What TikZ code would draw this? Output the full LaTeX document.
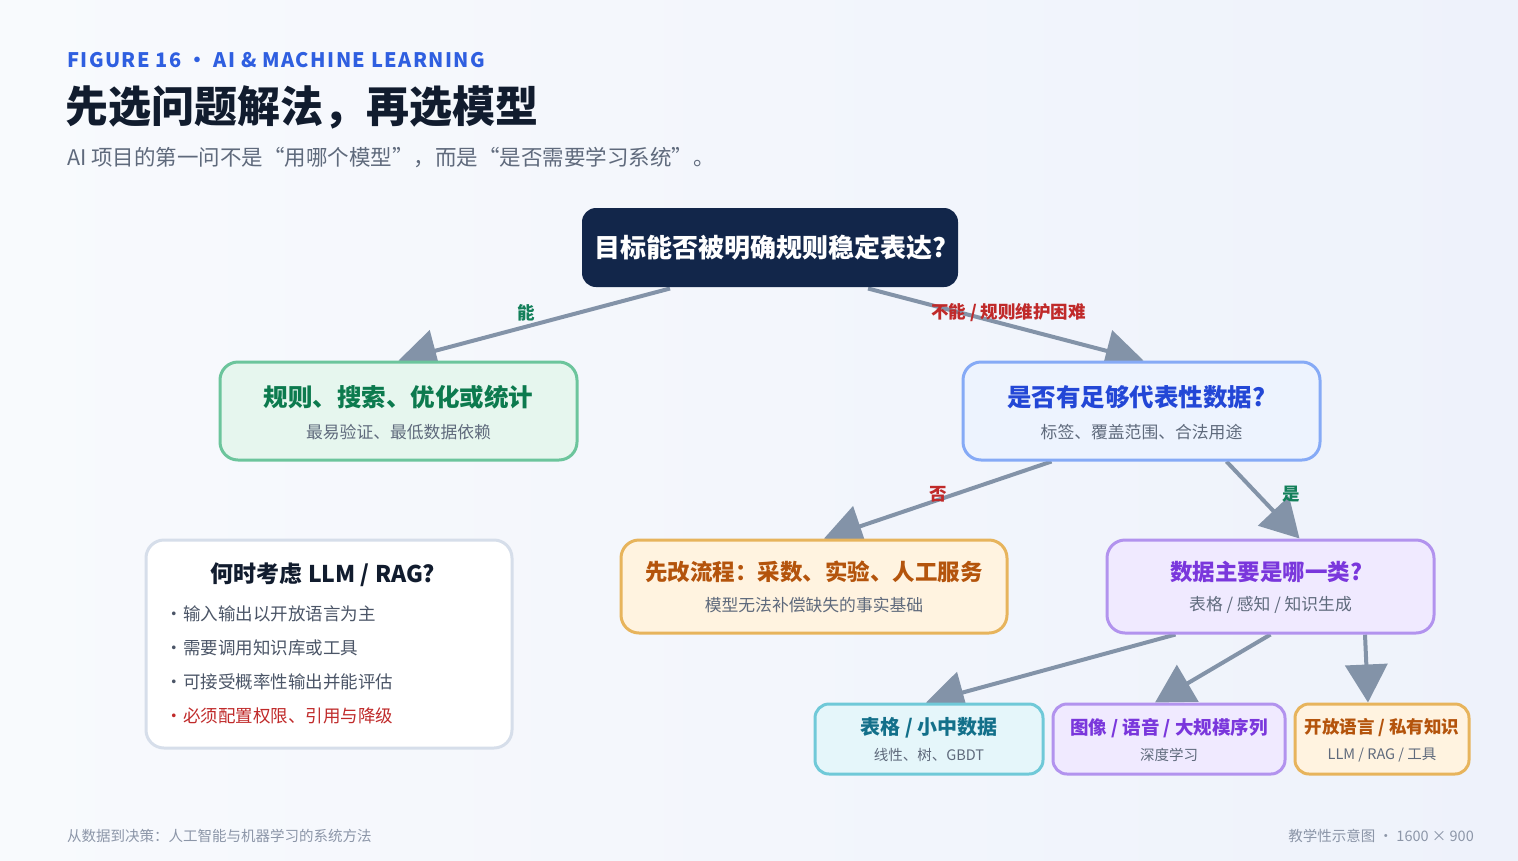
\documentclass[tikz,border=0pt]{standalone}
\usepackage{fontspec}
\setmainfont{Noto Sans CJK SC}
\usetikzlibrary{arrows.meta,positioning}

\definecolor{bgl}{HTML}{F8FAFD}
\definecolor{bgr}{HTML}{EEF2FB}
\definecolor{figc}{HTML}{2F5FE0}
\definecolor{inkc}{HTML}{111C2E}
\definecolor{subc}{HTML}{5F6A7C}
\definecolor{navyc}{HTML}{12264A}
\definecolor{arrowc}{HTML}{8393A8}
\definecolor{okc}{HTML}{13805A}
\definecolor{noc}{HTML}{C02A2A}
\definecolor{greenb}{HTML}{6CC59C}
\definecolor{greenf}{HTML}{E6F6EE}
\definecolor{greent}{HTML}{0C7A4E}
\definecolor{blueb}{HTML}{86AAF6}
\definecolor{bluef}{HTML}{EDF3FE}
\definecolor{bluet}{HTML}{2347D6}
\definecolor{orangeb}{HTML}{E7B45C}
\definecolor{orangef}{HTML}{FFF3E0}
\definecolor{oranget}{HTML}{B4540C}
\definecolor{purpleb}{HTML}{B293EE}
\definecolor{purplef}{HTML}{F0EAFF}
\definecolor{purplet}{HTML}{7A37DC}
\definecolor{tealb}{HTML}{70C9D8}
\definecolor{tealf}{HTML}{E5F6FA}
\definecolor{tealt}{HTML}{13708A}
\definecolor{grayb}{HTML}{D6DEEA}
\definecolor{itemc}{HTML}{4B5567}
\definecolor{footc}{HTML}{8C96A8}

\pgfdeclarelayer{bg}
\pgfsetlayers{bg,main}

\tikzset{
  box/.style={rounded corners=18pt, line width=3pt, inner sep=0pt},
  leaf/.style={rounded corners=14pt, line width=3pt, inner sep=0pt, minimum height=70pt},
  bigtitle/.style={font=\bfseries\fontsize{24.5}{28}\selectfont, inner sep=0pt},
  midtitle/.style={font=\bfseries\fontsize{22.5}{26}\selectfont, inner sep=0pt},
  leaftitle/.style={font=\bfseries\fontsize{18.5}{22}\selectfont, inner sep=0pt},
  boxsub/.style={font=\fontsize{16.8}{20}\selectfont, text=subc, inner sep=0pt},
  leafsub/.style={font=\fontsize{14.5}{18}\selectfont, text=subc, inner sep=0pt},
  item/.style={font=\fontsize{17.5}{20}\selectfont, text=itemc, anchor=west, inner sep=0pt},
  flow/.style={draw=arrowc, line width=4pt, -{Triangle[length=38pt,width=42pt]}},
  lab/.style={font=\bfseries\fontsize{17.5}{20}\selectfont, inner sep=1pt},
}

\begin{document}
\begin{tikzpicture}[x=1pt,y=-1pt]
\useasboundingbox (0,0) rectangle (1518,860);
\begin{pgfonlayer}{bg}
\shade[left color=bgl, right color=bgr] (0,0) rectangle (1518,860);
\end{pgfonlayer}

% header
\node[anchor=west, inner sep=0pt, text=figc, font=\bfseries\fontsize{20}{24}\selectfont\addfontfeature{LetterSpace=7}] (fig) at (67,60) {FIGURE 16 • AI \& MACHINE LEARNING};
\node[anchor=west, inner sep=0pt, text=inkc, font=\bfseries\fontsize{43}{48}\selectfont] (title) at (65,107) {先选问题解法，再选模型};
\node[anchor=west, inner sep=0pt, text=subc, font=\fontsize{21.5}{24}\selectfont] (subtitle) at (67,158) {AI 项目的第一问不是“用哪个模型”，而是“是否需要学习系统”。};

% decision tree
\node[box, rounded corners=14pt, fill=navyc, text=white, font=\bfseries\fontsize{26}{30}\selectfont, minimum width=376pt, minimum height=79pt] (root) at (770,247.5) {目标能否被明确规则稳定表达?};

\node[box, draw=greenb, fill=greenf, minimum width=357pt, minimum height=98pt] (nA) at (398.5,411) {};
\node[bigtitle, text=greent] (nAt) at ([yshift=14pt]nA.center) {规则、搜索、优化或统计};
\node[boxsub] (nAs) at ([yshift=-21pt]nA.center) {最易验证、最低数据依赖};

\node[box, draw=blueb, fill=bluef, minimum width=357pt, minimum height=98pt] (nB) at (1141.5,411) {};
\node[bigtitle, text=bluet] (nBt) at ([xshift=-5pt,yshift=14pt]nB.center) {是否有足够代表性数据?};
\node[boxsub] (nBs) at ([yshift=-21pt]nB.center) {标签、覆盖范围、合法用途};

\node[box, draw=orangeb, fill=orangef, minimum width=386pt, minimum height=93pt] (nC) at (814,586.5) {};
\node[midtitle, text=oranget] (nCt) at ([yshift=14.5pt]nC.center) {先改流程：采数、实验、人工服务};
\node[boxsub] (nCs) at ([yshift=-18.5pt]nC.center) {模型无法补偿缺失的事实基础};

\node[box, draw=purpleb, fill=purplef, minimum width=327pt, minimum height=93pt] (nD) at (1270.5,586.5) {};
\node[midtitle, text=purplet] (nDt) at ([xshift=-4pt,yshift=14.5pt]nD.center) {数据主要是哪一类?};
\node[boxsub] (nDs) at ([yshift=-18.5pt]nD.center) {表格 / 感知 / 知识生成};

\node[leaf, draw=tealb, fill=tealf, minimum width=228pt] (nE) at (929,739) {};
\node[leaftitle, text=tealt, font=\bfseries\fontsize{20}{24}\selectfont] (nEt) at ([yshift=11pt]nE.center) {表格 / 小中数据};
\node[leafsub] (nEs) at ([yshift=-16pt]nE.center) {线性、树、GBDT};

\node[leaf, draw=purpleb, fill=purplef, minimum width=232pt] (nF) at (1169,739) {};
\node[leaftitle, text=purplet] (nFt) at ([yshift=11pt]nF.center) {图像 / 语音 / 大规模序列};
\node[leafsub] (nFs) at ([yshift=-16pt]nF.center) {深度学习};

\node[leaf, draw=orangeb, fill=orangef, minimum width=174pt] (nG) at (1382,739) {};
\node[leaftitle, text=oranget, font=\bfseries\fontsize{17.5}{21}\selectfont] (nGt) at ([yshift=11pt]nG.center) {开放语言 / 私有知识};
\node[leafsub] (nGs) at ([yshift=-16pt]nG.center) {LLM / RAG / 工具};

% side note
\node[box, draw=grayb, fill=white, minimum width=366pt, minimum height=208pt] (nH) at (329,644) {};
\node[inner sep=0pt, text=inkc, font=\bfseries\fontsize{23}{26}\selectfont] (nHt) at (323,575) {何时考虑 LLM / RAG?};
\foreach \y/\t in {614/输入输出以开放语言为主, 648/需要调用知识库或工具, 682/可接受概率性输出并能评估}
  \node[item] (h\y) at (183,\y) {\llap{\makebox[0pt]{•}\hspace{9pt}}\t};
\node[item, text=noc] (h716) at (183,716) {\llap{\makebox[0pt]{•}\hspace{9pt}}必须配置权限、引用与降级};

% footer
\node[anchor=west, inner sep=0pt, text=footc, font=\fontsize{14.5}{18}\selectfont] (footl) at (67,836) {从数据到决策：人工智能与机器学习的系统方法};
\node[anchor=east, inner sep=0pt, text=footc, font=\fontsize{14.5}{18}\selectfont] (footr) at (1474,836) {教学性示意图 · 1600 × 900};

% connectors
\begin{pgfonlayer}{bg}
\draw[flow] ([xshift=-100pt]root.south) -- node[lab, text=okc, pos=.53, yshift=14pt] (lA) {能} (nA.north);
\draw[flow] ([xshift=98pt]root.south) -- node[lab, text=noc, pos=.51, yshift=13pt] (lB) {不能 / 规则维护困难} ([xshift=2pt]nB.north);
\draw[flow] ([xshift=-90pt]nB.south) -- node[lab, text=noc, pos=.5, yshift=6pt] (lC) {否} ([xshift=10pt]nC.north);
\draw[flow] ([xshift=85pt]nB.south) -- node[lab, text=okc, pos=.42, xshift=34pt] (lD) {是} ([xshift=29pt]nD.north);
\draw[flow] ([xshift=-95pt]nD.south) -- ([xshift=-3pt]nE.north);
\draw[flow] (nD.south) -- ([xshift=-14pt]nF.north);
\draw[flow] ([xshift=94.5pt]nD.south) -- ([xshift=-14pt]nG.north);
\end{pgfonlayer}
\end{tikzpicture}
\end{document}
